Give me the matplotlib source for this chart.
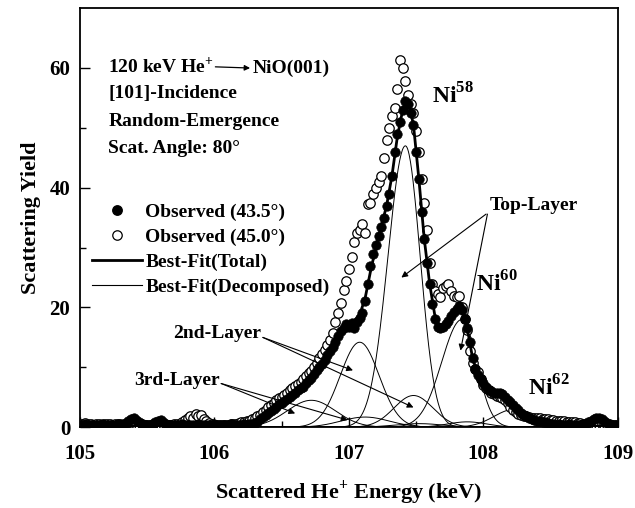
import numpy as np
import matplotlib
matplotlib.use("Agg")
import matplotlib.pyplot as plt
from matplotlib.lines import Line2D

plt.rcParams['font.family'] = ['Liberation Serif', 'DejaVu Serif']
plt.rcParams['font.weight'] = 'bold'
plt.rcParams['mathtext.fontset'] = 'custom'
plt.rcParams['mathtext.rm'] = 'Liberation Serif:bold'
plt.rcParams['mathtext.bf'] = 'Liberation Serif:bold'

# energy grid of the measured spectra (keV), 0.02 keV steps
energy = np.round(np.arange(105.0, 109.0001, 0.02), 2)

# Observed (43.5 deg) - filled circles
obs_435 = [
    0.4, 0.3, 0.5, 0.3, 0.4, 0.3, 0.4, 0.3, 0.5, 0.4,
    0.3, 0.4, 0.3, 0.4, 0.5, 0.4, 0.5, 0.7, 1.0, 1.3,
    1.5, 1.2, 0.8, 0.5, 0.4, 0.3, 0.4, 0.5, 0.8, 1.1,
    1.2, 0.9, 0.5, 0.4, 0.3, 0.4, 0.3, 0.4, 0.5, 0.4,
    0.3, 0.4, 0.3, 0.4, 0.5, 0.4, 0.3, 0.4, 0.3, 0.4,
    0.5, 0.4, 0.3, 0.4, 0.3, 0.4, 0.5, 0.4, 0.3, 0.4,
    0.4, 0.5, 0.4, 0.5, 0.6, 0.7, 0.9, 1.3, 1.7, 2.0,
    2.4, 2.7, 3.1, 3.4, 3.8, 4.1, 4.4, 4.7, 5.0, 5.4,
    5.8, 6.2, 6.5, 6.8, 7.4, 7.9, 8.3, 8.9, 9.5, 10.0,
    10.6, 11.2, 12.0, 12.8, 13.4, 14.3, 15.3, 16.0, 16.6, 17.2,
    16.8, 17.4, 16.6, 17.6, 18.3, 19.0, 21.0, 24.0, 27.0, 29.0,
    30.5, 32.0, 33.5, 35.0, 37.0, 39.0, 42.0, 46.0, 49.0, 51.0,
    53.0, 54.5, 54.0, 52.5, 50.5, 46.0, 41.5, 36.0, 31.5, 27.5,
    24.0, 20.5, 18.0, 16.8, 16.5, 16.8, 17.3, 17.8, 18.6, 19.2,
    19.8, 20.2, 19.6, 18.0, 16.5, 14.2, 11.5, 9.8, 8.8, 8.0,
    7.4, 6.8, 6.3, 6.0, 5.8, 5.8, 5.7, 5.5, 5.0, 4.6,
    4.2, 3.7, 3.2, 2.8, 2.4, 2.0, 1.8, 1.6, 1.4, 1.2,
    1.1, 1.0, 0.9, 0.8, 0.7, 0.6, 0.5, 0.4, 0.5, 0.4,
    0.3, 0.4, 0.5, 0.4, 0.3, 0.4, 0.4, 0.5, 0.6, 0.8,
    1.0, 1.3, 1.5, 1.6, 1.4, 1.0, 0.7, 0.5, 0.4, 0.3,
    0.4,
]

# Observed (45.0 deg) - open circles
obs_450 = [
    0.6, 0.5, 0.7, 0.5, 0.6, 0.4, 0.5, 0.6, 0.4, 0.5,
    0.6, 0.5, 0.4, 0.5, 0.6, 0.5, 0.4, 0.5, 0.6, 0.7,
    0.6, 0.5, 0.4, 0.5, 0.4, 0.3, 0.4, 0.5, 0.4, 0.3,
    0.4, 0.5, 0.4, 0.3, 0.4, 0.5, 0.5, 0.6, 0.9, 1.2,
    1.6, 1.9, 1.5, 2.2, 1.8, 2.0, 1.4, 1.1, 0.7, 0.5,
    0.4, 0.3, 0.4, 0.3, 0.4, 0.3, 0.5, 0.6, 0.5, 0.7,
    0.8, 0.9, 1.0, 1.1, 1.3, 1.5, 1.8, 2.1, 2.5, 2.9,
    3.3, 3.7, 4.1, 4.5, 4.8, 5.0, 5.4, 5.8, 6.2, 6.6,
    6.9, 7.2, 7.6, 8.0, 8.5, 9.0, 9.4, 10.0, 10.8, 11.5,
    12.3, 12.9, 13.7, 14.6, 15.8, 17.5, 19.0, 20.8, 23.0, 24.5,
    26.5, 28.5, 31.0, 32.5, 33.0, 34.0, 32.5, 37.3, 37.5, 39.0,
    40.0, 41.0, 42.0, 45.0, 48.0, 50.0, 52.0, 53.3, 56.5, 61.3,
    60.0, 57.8, 55.5, 54.0, 52.5, 49.5, 46.0, 41.5, 37.5, 33.0,
    27.5, 24.0, 22.8, 22.2, 21.7, 23.2, 23.6, 24.0, 22.8, 22.0,
    21.7, 22.0, 20.0, 18.0, 16.2, 12.8, 10.7, 9.8, 9.2, 8.0,
    7.0, 6.5, 6.2, 5.8, 5.5, 5.2, 5.0, 4.8, 4.5, 4.0,
    3.3, 2.8, 2.5, 2.2, 2.0, 1.9, 1.8, 1.7, 1.6, 1.6,
    1.5, 1.5, 1.4, 1.3, 1.3, 1.2, 1.2, 1.1, 1.1, 1.0,
    1.0, 0.9, 0.9, 0.8, 0.8, 0.7, 0.7, 0.6, 0.6, 0.5,
    0.5, 0.5, 0.4, 0.4, 0.5, 0.4, 0.4, 0.3, 0.4, 0.4,
    0.3,
]

# best-fit total, 0.04 keV steps
fit_energy = np.round(np.arange(105.0, 109.0001, 0.04), 2)
fit_total = [
    0.2, 0.2, 0.2, 0.2, 0.2, 0.2, 0.2, 0.2, 0.2, 0.2,
    0.2, 0.2, 0.2, 0.2, 0.2, 0.2, 0.2, 0.2, 0.2, 0.2,
    0.2, 0.2, 0.2, 0.2, 0.2, 0.2, 0.2, 0.2, 0.3, 0.3,
    0.4, 0.6, 0.9, 1.2, 1.6, 2.2, 2.8, 3.5, 4.2, 5.0,
    5.7, 6.5, 7.4, 8.4, 9.5, 10.7, 12.0, 13.4, 15.0, 16.4,
    17.3, 17.8, 18.8, 21.5, 26.0, 30.0, 33.5, 37.0, 42.0, 48.5,
    53.0, 54.5, 50.5, 41.5, 31.5, 24.0, 18.5, 16.5, 17.3, 18.6,
    19.8, 19.8, 16.5, 11.5, 8.8, 7.4, 6.4, 5.9, 5.6, 5.0,
    4.2, 3.2, 2.4, 1.8, 1.4, 1.1, 0.9, 0.7, 0.5, 0.4,
    0.3, 0.3, 0.3, 0.3, 0.2, 0.2, 0.2, 0.2, 0.2, 0.2,
    0.2,
]

# decomposed peaks (top / 2nd / 3rd layer x Ni58, Ni60, Ni62)
comp_center = [107.42, 107.84, 108.23, 107.08, 107.48, 107.88, 106.72, 107.12, 107.52]
comp_height = [47.0, 18.0, 3.0, 14.2, 5.3, 0.9, 4.5, 1.7, 0.6]
comp_wleft  = [0.13, 0.15, 0.15, 0.145, 0.145, 0.145, 0.18, 0.18, 0.18]
comp_wright = [0.11, 0.11, 0.11, 0.145, 0.145, 0.145, 0.18, 0.18, 0.18]

text_lines = ["[101]-Incidence", "Random-Emergence", "Scat. Angle: 80\u00b0"]

fig = plt.figure(figsize=(6.35, 5.08), dpi=100)
ax = fig.add_axes([0.126, 0.159, 0.847, 0.825])

ax.plot(energy, obs_450, "o", ms=6.8, mfc="white", mec="black", mew=0.9, zorder=3)
ax.plot(energy, obs_435, "o", ms=6.8, mfc="black", mec="black", mew=0.5, zorder=4)
ax.plot(fit_energy, fit_total, "-", color="black", lw=2.0, zorder=5)

ee = np.linspace(105.9, 108.9, 600)
for c, h, sl, sr in zip(comp_center, comp_height, comp_wleft, comp_wright):
    s = np.where(ee < c, sl, sr)
    ax.plot(ee, h * np.exp(-0.5 * ((ee - c) / s) ** 2), "-", color="black", lw=0.7, zorder=2)

ax.set_xlim(105, 109)
ax.set_ylim(0, 70)
ax.set_xticks([105, 106, 107, 108, 109])
ax.set_xticks([105.5, 106.5, 107.5, 108.5], minor=True)
ax.set_yticks([0, 20, 40, 60])
ax.set_yticks([10, 30, 50], minor=True)
ax.tick_params(which="both", direction="in", labelsize=15, width=1.0)
ax.tick_params(which="major", length=7)
ax.tick_params(which="minor", length=4)
ax.tick_params(axis="x", which="major", pad=12)
ax.tick_params(axis="y", which="major", pad=7)
for lab in ax.get_xticklabels() + ax.get_yticklabels():
    lab.set_fontweight("bold")
for sp in ax.spines.values():
    sp.set_linewidth(1.3)

ax.set_xlabel("Scattered He$^{+}$ Energy (keV)", fontsize=16, fontweight="bold", labelpad=10)
ax.set_ylabel("Scattering Yield", fontsize=16, fontweight="bold", labelpad=6)

# header: "120 keV He+ --> NiO(001)" with a drawn arrow
arr_small = dict(arrowstyle="-|>", color="black", lw=0.9, mutation_scale=8, shrinkA=1, shrinkB=2)
t1 = ax.text(105.21, 59.2, "120 keV He$^{+}$", fontsize=14, fontweight="bold",
             va="baseline", ha="left")
t2 = ax.annotate("NiO(001)", xy=(1, 0), xycoords=t1, xytext=(28, 0),
                 textcoords="offset points", fontsize=14, fontweight="bold",
                 va="bottom", ha="left")
ax.annotate("", xy=(0, 0.5), xycoords=t2, xytext=(1, 0.5), textcoords=t1,
            arrowprops=arr_small)
for i, t in enumerate(text_lines):
    ax.text(105.21, 60.3 - 4.6 * (i + 1), t, fontsize=14, fontweight="bold",
            va="center", ha="left")

handles = [
    Line2D([], [], ls="none", marker="o", ms=6.8, mfc="black", mec="black"),
    Line2D([], [], ls="none", marker="o", ms=6.8, mfc="white", mec="black", mew=0.9),
    Line2D([], [], color="black", lw=2.0),
    Line2D([], [], color="black", lw=0.8),
]
labels = ["Observed (43.5\u00b0)", "Observed (45.0\u00b0)",
          "Best-Fit(Total)", "Best-Fit(Decomposed)"]
ax.legend(handles, labels, loc="upper left", bbox_to_anchor=(0.022, 0.535),
          frameon=False, handlelength=2.6, handletextpad=0.15,
          labelspacing=0.38, borderpad=0, borderaxespad=0,
          prop={"weight": "bold", "size": 14})

ax.text(107.77, 55.3, "Ni$^{58}$", fontsize=17, ha="center", va="center")
ax.text(108.10, 24.0, "Ni$^{60}$", fontsize=17, ha="center", va="center")
ax.text(108.49, 6.5, "Ni$^{62}$", fontsize=17, ha="center", va="center")

arr = dict(arrowstyle="-|>", color="black", lw=0.8, mutation_scale=9, shrinkA=0, shrinkB=0)
ax.text(108.05, 37.0, "Top-Layer", fontsize=14, fontweight="bold", ha="left", va="center")
ax.annotate("", xy=(107.39, 25.0), xytext=(108.02, 35.6), arrowprops=arr)
ax.annotate("", xy=(107.83, 12.8), xytext=(108.03, 35.6), arrowprops=arr)

ax.text(106.35, 15.6, "2nd-Layer", fontsize=14, fontweight="bold", ha="right", va="center")
ax.annotate("", xy=(107.03, 9.5), xytext=(106.36, 15.0), arrowprops=arr)
ax.annotate("", xy=(107.48, 3.3), xytext=(106.36, 15.0), arrowprops=arr)

ax.text(106.04, 7.8, "3rd-Layer", fontsize=14, fontweight="bold", ha="right", va="center")
ax.annotate("", xy=(106.60, 2.3), xytext=(106.05, 7.3), arrowprops=arr)
ax.annotate("", xy=(106.99, 1.2), xytext=(106.05, 7.3), arrowprops=arr)

fig.savefig("out.png", dpi=100)
